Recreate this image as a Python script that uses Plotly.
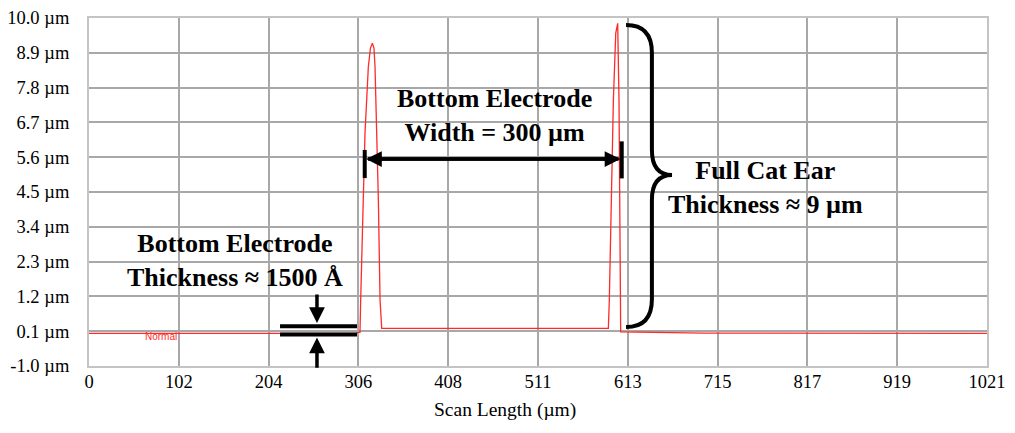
import plotly.graph_objects as go

# ---- data ----
scan_x = [0, 60, 200, 304, 306, 308.1, 308.9, 311.9, 313.8, 317.6, 320.0, 322.2, 324.0, 325.2,
          327.1, 329.0, 330.9, 332.8, 400, 500, 590.5, 591.6, 593.5, 596.2, 598.9, 601.1,
          602.6, 603.8, 604.5, 700, 850, 1021]
height_um = [0.03, 0.03, 0.03, 0.03, 0.06, 0.06, 1.09, 4.25, 6.36, 8.46, 9.05, 9.20, 9.05, 8.46,
             6.36, 4.25, 1.09, 0.19, 0.19, 0.19, 0.19, 1.09, 4.25, 7.41, 9.52, 9.83,
             7.41, 1.09, 0.08, 0.04, 0.04, 0.03]

x_tick_vals = [0, 102.1, 204.2, 306.3, 408.4, 510.5, 612.6, 714.7, 816.8, 918.9, 1021.0]
x_tick_text = ["0", "102", "204", "306", "408", "511", "613", "715", "817", "919", "1021"]
y_tick_vals = [-1.0, 0.1, 1.2, 2.3, 3.4, 4.5, 5.6, 6.7, 7.8, 8.9, 10.0]
y_tick_text = ["-1.0 µm", "0.1 µm", "1.2 µm", "2.3 µm", "3.4 µm", "4.5 µm",
               "5.6 µm", "6.7 µm", "7.8 µm", "8.9 µm", "10.0 µm"]

# annotation anchor points (data coordinates)
width_bar_left = 313.5
width_bar_right = 605.7
width_arrow_y = 5.54
brace_x0, brace_xm, brace_xt = 610.6, 640.0, 662.9
brace_top, brace_mid, brace_bot = 9.78, 5.04, 0.23
thick_x0, thick_x1 = 217.2, 304.7
thick_top, thick_bot = 0.254, -0.005
thick_arrow_x = 259.2

SERIF = "Liberation Serif, Times New Roman, serif"

fig = go.Figure()
fig.add_trace(go.Scatter(x=scan_x, y=height_um, mode="lines",
                         line=dict(color="#ff2a2a", width=1.3), showlegend=False,
                         hoverinfo="skip"))

shapes = []
# vertical end bars of the width arrow
shapes.append(dict(type="line", xref="x", yref="y", x0=width_bar_left, x1=width_bar_left,
                   y0=4.94, y1=5.83, line=dict(color="black", width=4)))
shapes.append(dict(type="line", xref="x", yref="y", x0=width_bar_right, x1=width_bar_right,
                   y0=4.93, y1=6.10, line=dict(color="black", width=4)))
# curly brace
r = 0.88
r2 = 0.79
path = (f"M {brace_x0},{brace_top} Q {brace_xm},{brace_top} {brace_xm},{brace_top - r} "
        f"L {brace_xm},{brace_mid + r2} Q {brace_xm},{brace_mid} {brace_xt},{brace_mid} "
        f"Q {brace_xm},{brace_mid} {brace_xm},{brace_mid - r2} "
        f"L {brace_xm},{brace_bot + r} Q {brace_xm},{brace_bot} {brace_x0},{brace_bot}")
shapes.append(dict(type="path", xref="x", yref="y", path=path,
                   line=dict(color="black", width=4)))
# thickness bars
for yy in (thick_top, thick_bot):
    shapes.append(dict(type="line", xref="x", yref="y", x0=thick_x0, x1=thick_x1,
                       y0=yy, y1=yy, line=dict(color="black", width=4)))

annotations = []
# width double arrow: two full-length overlapping arrows
annotations.append(dict(x=width_bar_left + 1.5, y=width_arrow_y, ax=width_bar_right - 2,
                        ay=width_arrow_y, xref="x", yref="y", axref="x", ayref="y", text="",
                        showarrow=True, arrowhead=2, arrowsize=0.9, arrowwidth=3.5,
                        arrowcolor="black"))
annotations.append(dict(x=width_bar_right - 1.5, y=width_arrow_y, ax=width_bar_left + 2,
                        ay=width_arrow_y, xref="x", yref="y", axref="x", ayref="y", text="",
                        showarrow=True, arrowhead=2, arrowsize=0.9, arrowwidth=3.5,
                        arrowcolor="black"))
# thickness arrows
annotations.append(dict(x=thick_arrow_x, y=0.36, ax=thick_arrow_x, ay=1.31,
                        xref="x", yref="y", axref="x", ayref="y", text="",
                        showarrow=True, arrowhead=2, arrowsize=0.9, arrowwidth=3.5,
                        arrowcolor="black"))
annotations.append(dict(x=thick_arrow_x, y=-0.10, ax=thick_arrow_x, ay=-1.10,
                        xref="x", yref="y", axref="x", ayref="y", text="",
                        showarrow=True, arrowhead=2, arrowsize=0.9, arrowwidth=3.5,
                        arrowcolor="black"))

txt_font = dict(family=SERIF, size=26, color="black")
annotations.append(dict(x=460.5, y=6.93, xref="x", yref="y", showarrow=False,
                        text="<b>Bottom Electrode<br>Width = 300 µm</b>", font=txt_font))
annotations.append(dict(x=768.6, y=4.63, xref="x", yref="y", showarrow=False,
                        text="<b>Full Cat Ear<br>Thickness ≈ 9 µm</b>", font=txt_font))
annotations.append(dict(x=166, y=2.32, xref="x", yref="y", showarrow=False,
                        text="<b>Bottom Electrode<br>Thickness ≈ 1500 Å</b>", font=txt_font))
annotations.append(dict(x=61.4, y=-0.07, xref="x", yref="y", showarrow=False,
                        xanchor="left", text="Normal",
                        font=dict(family="Liberation Sans, Arial", size=10, color="#ff2a2a")))
# axis title
annotations.append(dict(x=(505 - 89) / 898, y=-(410 - 366) / 348, xref="paper", yref="paper",
                        showarrow=False, yanchor="middle", text="Scan Length (µm)",
                        font=dict(family=SERIF, size=19.5, color="black")))

# the page body adds an 8 px margin, so the figure is 8 px smaller with reduced l/t margins
fig.update_layout(
    width=1007, height=425,
    margin=dict(l=81, r=28, t=10, b=67, autoexpand=False),
    paper_bgcolor="white", plot_bgcolor="white",
    shapes=shapes, annotations=annotations,
    xaxis=dict(range=[0, 1021], tickvals=x_tick_vals, ticktext=x_tick_text,
               showgrid=True, gridcolor="#a8a8a8", gridwidth=1.5, zeroline=False,
               showline=True, linecolor="#c4c4c4", linewidth=2, mirror=True,
               ticks="", ticklabelstandoff=-2, automargin=False,
               tickfont=dict(family=SERIF, size=18.5, color="black")),
    yaxis=dict(range=[-1.0, 10.0], tickvals=y_tick_vals, ticktext=y_tick_text,
               showgrid=True, gridcolor="#a8a8a8", gridwidth=1.5, zeroline=False,
               showline=True, linecolor="#c4c4c4", linewidth=2, mirror=True,
               ticks="", ticklabelstandoff=14, automargin=False,
               tickfont=dict(family=SERIF, size=18.5, color="black")),
)

fig.write_html("out.html")
